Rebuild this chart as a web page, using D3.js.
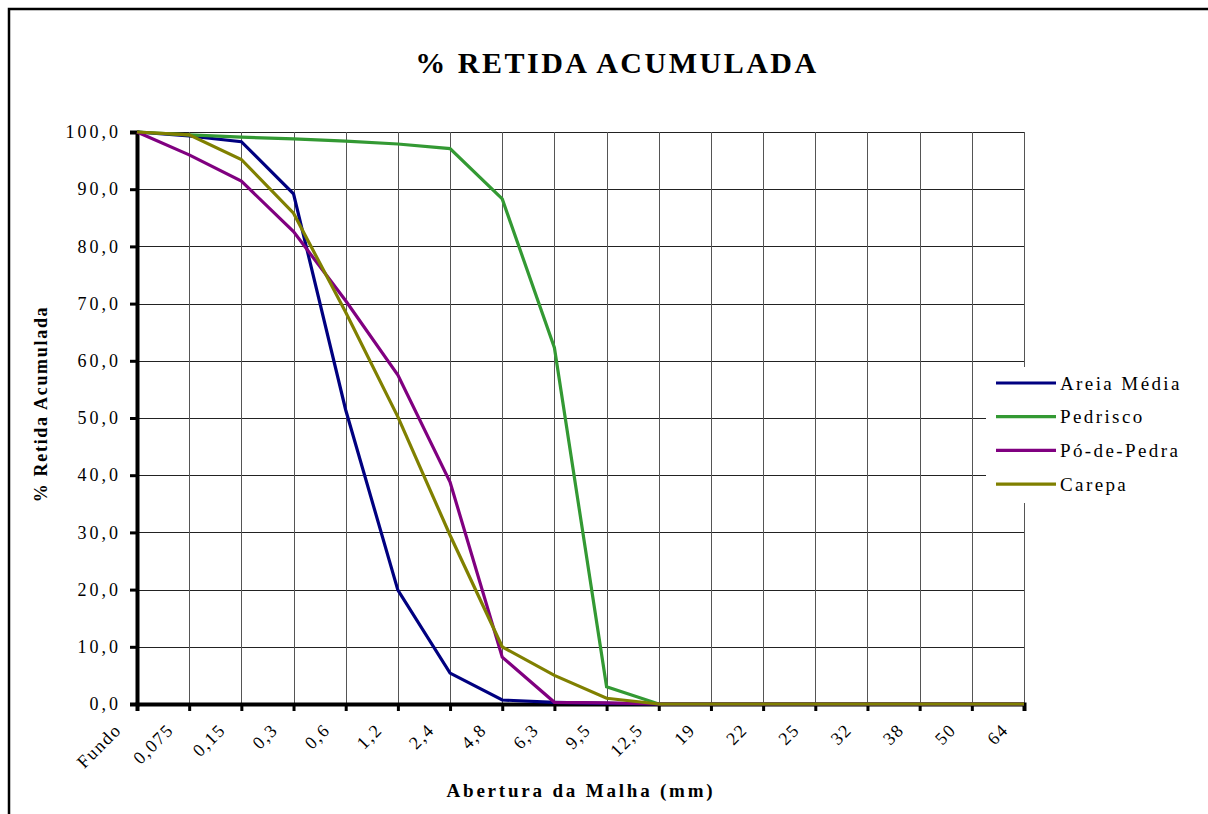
<!DOCTYPE html>
<html>
<head>
<meta charset="utf-8">
<script src="https://cdn.jsdelivr.net/npm/d3@7/dist/d3.min.js"></script>
<style>
  body { margin: 0; background: #fff; }
  text { font-family: "Liberation Serif", "Times New Roman", serif; fill: #000; }
</style>
</head>
<body>
<div id="chart"></div>
<script>
// aberturas (eixo x)
var categorias = ["Fundo", "0,075", "0,15", "0,3", "0,6", "1,2", "2,4", "4,8", "6,3", "9,5", "12,5", "19", "22", "25", "32", "38", "50", "64"];
var yTicks = [0, 10, 20, 30, 40, 50, 60, 70, 80, 90, 100];

// % retida acumulada por material
var areiaMedia = [100, 99.3, 98.3, 89.2, 51.4, 19.9, 5.4, 0.7, 0.3, 0.1, 0, 0, 0, 0, 0, 0, 0, 0];
var pedrisco   = [100, 99.5, 99.1, 98.8, 98.4, 97.9, 97.1, 88.3, 62.3, 3.0, 0, 0, 0, 0, 0, 0, 0, 0];
var poDePedra  = [100, 96.0, 91.4, 82.6, 70.5, 57.5, 38.8, 8.2, 0.3, 0.2, 0, 0, 0, 0, 0, 0, 0, 0];
var carepa     = [100, 99.5, 95.2, 85.8, 68.5, 50.2, 29.5, 10.0, 5.0, 1.0, 0, 0, 0, 0, 0, 0, 0, 0];

var series = [
    {nome: "Areia Média", valores: areiaMedia, cor: "#000080"},
    {nome: "Pedrisco", valores: pedrisco, cor: "#339933"},
    {nome: "Pó-de-Pedra", valores: poDePedra, cor: "#800080"},
    {nome: "Carepa", valores: carepa, cor: "#808000"}
];

var W = 1208, H = 814;
var plot = {left: 137, right: 1024, top: 132, bottom: 704};
var fonte = "'Liberation Serif', 'Times New Roman', serif";

var svg = d3.select("#chart").append("svg")
    .attr("width", W)
    .attr("height", H);

svg.append("rect").attr("width", W).attr("height", H).attr("fill", "#fff");

// moldura (cortada à direita e embaixo)
svg.append("rect")
    .attr("x", 9).attr("y", 9)
    .attr("width", W + 20).attr("height", H + 20)
    .attr("fill", "none")
    .attr("stroke", "#000")
    .attr("stroke-width", 2.5);

var x = d3.scalePoint().domain(d3.range(categorias.length)).range([plot.left, plot.right]);
var y = d3.scaleLinear().domain([0, 100]).range([plot.bottom, plot.top]);
var fmt = function (v) { return d3.format(".1f")(v).replace(".", ","); };

// grade
var g = svg.append("g");
g.selectAll(".hgrid")
    .data(yTicks)
    .enter().append("line")
    .attr("x1", plot.left).attr("x2", plot.right)
    .attr("y1", function (d) { return Math.round(y(d)) + 0.5; })
    .attr("y2", function (d) { return Math.round(y(d)) + 0.5; })
    .attr("stroke", "#222").attr("stroke-width", 1);
g.selectAll(".vgrid")
    .data(d3.range(1, categorias.length))
    .enter().append("line")
    .attr("x1", function (d) { return Math.round(x(d)) + 0.5; })
    .attr("x2", function (d) { return Math.round(x(d)) + 0.5; })
    .attr("y1", plot.top).attr("y2", plot.bottom)
    .attr("stroke", "#555").attr("stroke-width", 1);

// eixo y
var yAxis = svg.append("g")
    .attr("transform", "translate(" + plot.left + ",0)")
    .call(d3.axisLeft(y).tickValues(yTicks).tickSize(7).tickPadding(9).tickFormat(fmt));
yAxis.select(".domain").attr("stroke", "#000").attr("stroke-width", 4);
yAxis.selectAll(".tick line").attr("stroke", "#000").attr("stroke-width", 3);
yAxis.selectAll(".tick text")
    .style("font-family", fonte)
    .style("font-size", "18px")
    .style("letter-spacing", "3px");

// eixo x
var xAxis = svg.append("g")
    .attr("transform", "translate(0," + plot.bottom + ")")
    .call(d3.axisBottom(x).tickSize(7).tickFormat(function (i) { return categorias[i]; }));
xAxis.select(".domain").attr("stroke", "#000").attr("stroke-width", 4);
xAxis.selectAll(".tick line").attr("stroke", "#000").attr("stroke-width", 3);
xAxis.selectAll(".tick text")
    .style("font-family", fonte)
    .style("font-size", "18px")
    .style("letter-spacing", "1.6px")
    .attr("text-anchor", "end")
    .attr("dy", "0")
    .attr("transform", "translate(-15,27) rotate(-45)")
    .attr("y", 0).attr("x", 0);

// linhas das séries
var linha = d3.line()
    .x(function (d, i) { return x(i); })
    .y(function (d) { return y(d); });

svg.selectAll(".serie")
    .data(series)
    .enter().append("path")
    .attr("class", "serie")
    .attr("d", function (d) { return linha(d.valores); })
    .attr("fill", "none")
    .attr("stroke", function (d) { return d.cor; })
    .attr("stroke-width", 3.2)
    .attr("stroke-linejoin", "miter");

// legenda
var leg = svg.append("g").attr("transform", "translate(986,367)");
leg.append("rect").attr("width", 215).attr("height", 136).attr("fill", "#fff");
var item = leg.selectAll(".item")
    .data(series)
    .enter().append("g")
    .attr("transform", function (d, i) { return "translate(0," + (16 + i * 33.7) + ")"; });
item.append("line")
    .attr("x1", 10).attr("x2", 70)
    .attr("stroke", function (d) { return d.cor; })
    .attr("stroke-width", 3.2);
item.append("text")
    .attr("x", 74).attr("dy", "0.35em")
    .style("font-size", "19px")
    .style("letter-spacing", "2.4px")
    .text(function (d) { return d.nome; });

// títulos
svg.append("text")
    .attr("x", 617).attr("y", 73)
    .attr("text-anchor", "middle")
    .style("font-size", "30px").style("font-weight", "bold")
    .style("letter-spacing", "2.5px")
    .text("% RETIDA ACUMULADA");

svg.append("text")
    .attr("x", 581).attr("y", 797)
    .attr("text-anchor", "middle")
    .style("font-size", "19px").style("font-weight", "bold")
    .style("letter-spacing", "2.8px")
    .text("Abertura da Malha (mm)");

svg.append("text")
    .attr("transform", "translate(47,404) rotate(-90)")
    .attr("text-anchor", "middle")
    .style("font-size", "18px").style("font-weight", "bold")
    .style("letter-spacing", "1.7px")
    .text("% Retida Acumulada");
</script>
</body>
</html>
